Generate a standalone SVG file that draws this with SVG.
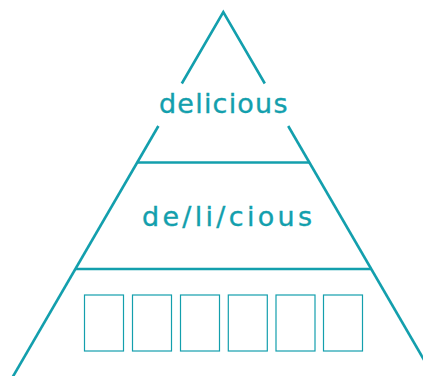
<svg xmlns="http://www.w3.org/2000/svg" width="423" height="376" viewBox="0 0 423 376">
<style>
.ln{stroke:#139fad;stroke-width:2.6;fill:none;stroke-linecap:butt}
.bx{stroke:#139fad;stroke-width:1.2;fill:none}
.t{font-family:"DejaVu Sans","Noto Sans",sans-serif;font-size:27px;fill:#139fad;stroke:#139fad;stroke-width:0.35}
</style>
<rect width="423" height="376" fill="#ffffff"/>
<g id="connectors">
<polyline class="ln" points="181.8,83.5 223.3,12 264.8,83.5"/>
<line class="ln" x1="158.4" y1="126" x2="-3" y2="404"/>
<line class="ln" x1="288.2" y1="126" x2="449.6" y2="404"/>
<line class="ln" x1="137" y1="162.5" x2="309.6" y2="162.5"/>
<line class="ln" x1="75" y1="269" x2="371.6" y2="269"/>
</g>
<g id="top">
<text class="t" x="159" y="113.3" textLength="128.5" lengthAdjust="spacing">delicious</text>
</g>
<g id="middle">
<text class="t" x="142" y="226" textLength="170" lengthAdjust="spacing">de/li/cious</text>
</g>
<g id="bottom">
<rect class="bx" x="84.5" y="295" width="39" height="56"/>
<rect class="bx" x="132.5" y="295" width="39" height="56"/>
<rect class="bx" x="180.5" y="295" width="39" height="56"/>
<rect class="bx" x="228.3" y="295" width="39" height="56"/>
<rect class="bx" x="276" y="295" width="39" height="56"/>
<rect class="bx" x="323.5" y="295" width="39" height="56"/>
</g>
</svg>
